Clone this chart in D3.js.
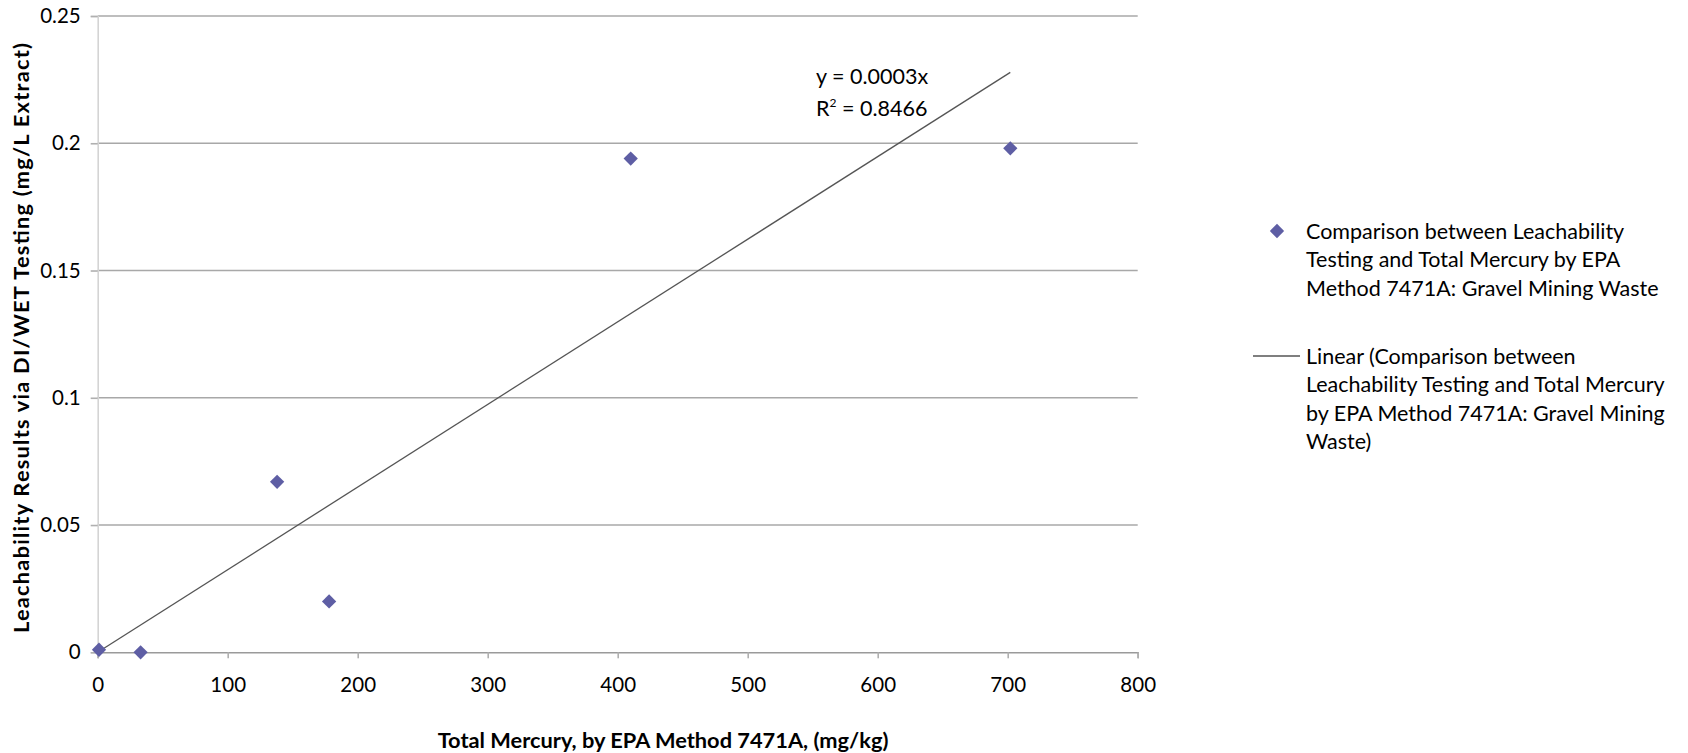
<!DOCTYPE html>
<html><head><meta charset="utf-8">
<script src="https://cdn.jsdelivr.net/npm/d3@7/dist/d3.min.js"></script>
<style>body{margin:0;background:#fff}svg{display:block}text{font-family:Lato,"Open Sans",sans-serif;fill:#000}</style>
</head><body><svg id="c" width="1688" height="753"></svg>
<script>
const xValues = [1, 33, 138, 178, 410, 702];
const yValues = [0.001, 0.0, 0.067, 0.020, 0.194, 0.198];
const xTicks = [0, 100, 200, 300, 400, 500, 600, 700, 800];
const yTicks = [0, 0.05, 0.1, 0.15, 0.2, 0.25];
const yTickLabels = ["0", "0.05", "0.1", "0.15", "0.2", "0.25"];
const legendMarkerText = ["Comparison between Leachability", "Testing and Total Mercury by EPA", "Method 7471A: Gravel Mining Waste"];
const legendLineText = ["Linear (Comparison between", "Leachability Testing and Total Mercury", "by EPA Method 7471A: Gravel Mining", "Waste)"];
const xTitle = "Total Mercury, by EPA Method 7471A, (mg/kg)";
const yTitle = "Leachability Results via DI/WET Testing (mg/L Extract)";

const svg = d3.select("#c");
const L = 97.7, R = 1137.7, T = 16, B = 652.3;
const x = d3.scaleLinear().domain([0, 800]).range([L, R]);
const y = d3.scaleLinear().domain([0, 0.25]).range([B, T]);
const FS = 21.5, TFS = 20.5;

// gridlines
svg.append("g").selectAll("line").data(yTicks.filter(d => d > 0)).join("line")
  .attr("x1", L).attr("x2", R).attr("y1", d => y(d)).attr("y2", d => y(d))
  .attr("stroke", "#a8a8a8").attr("stroke-width", 1.6);

// y axis
const yAxis = svg.append("g").attr("transform", `translate(${L},0)`)
  .call(d3.axisLeft(y).tickValues(yTicks).tickFormat((d, i) => yTickLabels[i]).tickSize(7).tickPadding(10));
yAxis.select(".domain").attr("stroke", "#d4d4d4").attr("stroke-width", 1.6);
yAxis.selectAll(".tick line").attr("stroke", "#b0b0b0").attr("stroke-width", 1.6);
yAxis.selectAll("text").attr("font-size", TFS).attr("font-family", "Lato").attr("fill", "#000");

// x axis
const xAxis = svg.append("g").attr("transform", `translate(0,${B})`)
  .call(d3.axisBottom(x).tickValues(xTicks).tickFormat(d3.format("d")).tickSize(6).tickPadding(19));
xAxis.select(".domain").attr("stroke", "#9a9a9a").attr("stroke-width", 1.6);
xAxis.selectAll(".tick line").attr("stroke", "#b0b0b0").attr("stroke-width", 1.6);
xAxis.selectAll("text").attr("font-size", TFS).attr("font-family", "Lato").attr("fill", "#000");

// trendline (linear through origin, least squares)
const slope = d3.sum(xValues.map((v, i) => v * yValues[i])) / d3.sum(xValues.map(v => v * v));
const xMax = d3.max(xValues);
svg.append("line").attr("x1", x(0)).attr("y1", y(0)).attr("x2", x(xMax)).attr("y2", y(slope * xMax))
  .attr("stroke", "#555").attr("stroke-width", 1.3);

// points
const diamond = d3.symbol().type(d3.symbolDiamond2).size(130);
svg.append("g").selectAll("path").data(xValues.map((v, i) => [v, yValues[i]])).join("path")
  .attr("d", diamond).attr("transform", d => `translate(${x(d[0])},${y(d[1])})`)
  .attr("fill", "#5e5ea4");

// trend label
svg.append("text").attr("x", 816).attr("y", 84).attr("font-size", FS).text("y = 0.0003x");
const r2 = svg.append("text").attr("x", 816).attr("y", 116).attr("font-size", FS);
r2.append("tspan").text("R");
r2.append("tspan").attr("dy", -9).attr("font-size", 12).text("2");
r2.append("tspan").attr("dy", 9).text(" = 0.8466");

// legend
svg.append("path").attr("d", diamond).attr("transform", "translate(1277,231)").attr("fill", "#5e5ea4");
svg.append("g").selectAll("text").data(legendMarkerText).join("text")
  .attr("x", 1306).attr("y", (d, i) => 239 + i * 28.3).attr("font-size", FS).text(d => d);
svg.append("line").attr("x1", 1253).attr("x2", 1300).attr("y1", 356).attr("y2", 356).attr("stroke", "#555").attr("stroke-width", 1.3);
svg.append("g").selectAll("text").data(legendLineText).join("text")
  .attr("x", 1306).attr("y", (d, i) => 364 + i * 28.3).attr("font-size", FS).text(d => d);

// axis titles
svg.append("text").attr("x", 663).attr("y", 748).attr("text-anchor", "middle")
  .attr("font-size", 21.8).attr("font-weight", "bold").text(xTitle);
svg.append("text").attr("transform", `translate(29,338) rotate(-90)`).attr("text-anchor", "middle")
  .attr("font-size", 21.8).attr("font-weight", "bold")
  .attr("textLength", 590).attr("lengthAdjust", "spacing").text(yTitle);
</script></body></html>
